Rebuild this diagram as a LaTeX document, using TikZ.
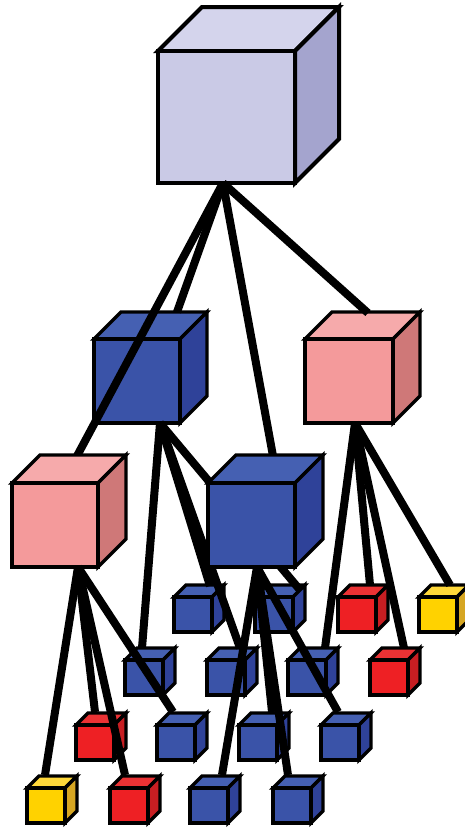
\documentclass[tikz,border=0pt]{standalone}
\definecolor{lavf}{HTML}{CACAE6}
\definecolor{lavt}{HTML}{D4D4EC}
\definecolor{lavs}{HTML}{A4A4CE}
\definecolor{bluf}{HTML}{3A53A8}
\definecolor{blut}{HTML}{4560B2}
\definecolor{blus}{HTML}{2F4299}
\definecolor{pnkf}{HTML}{F49A9B}
\definecolor{pnkt}{HTML}{F6AAAB}
\definecolor{pnks}{HTML}{CF7878}
\definecolor{redf}{HTML}{EE2024}
\definecolor{redt}{HTML}{EA3234}
\definecolor{reds}{HTML}{C81E22}
\definecolor{yelf}{HTML}{FFD200}
\definecolor{yelt}{HTML}{FFD83A}
\definecolor{yels}{HTML}{D6A622}
% name, x, y (front top-left), width, height, depth, colour prefix
\newcommand\qcube[7]{%
  \begin{scope}[shift={(#2,#3)}]
    \filldraw[cubeline,fill=#7t] (0,0) -- (#6,-#6) -- (#4+#6,-#6) -- (#4,0) -- cycle;
    \filldraw[cubeline,fill=#7s] (#4,0) -- (#4+#6,-#6) -- (#4+#6,#5-#6) -- (#4,#5) -- cycle;
    \filldraw[cubeline,fill=#7f] (0,0) rectangle (#4,#5);
    \coordinate (#1) at (#4/2,#5/2);
  \end{scope}}
\tikzset{
  cubeline/.style={line width=3.4pt,draw=black,line join=miter},
  bigline/.style={line width=4pt,draw=black,line join=miter},
  link/.style={line width=8pt,draw=black,line cap=butt},
}
\begin{document}
\begin{tikzpicture}[x=1pt,y=-1pt]
\fill[white] (0,0) rectangle (465,828);
\useasboundingbox (0,0) rectangle (465,828);

% hubs and attachment points
\coordinate (T-out) at (223,183);
\coordinate (H2-out) at (160,423);
\coordinate (PR-out) at (355,423);
\coordinate (PL-out) at (78,567);
\coordinate (H3-out) at (257,567);

\coordinate (H2-in) at (177,312);
\coordinate (PL-in) at (77,456);
\coordinate (H3-in) at (273,456);
\coordinate (PR-in) at (368,313);

\coordinate (A1-in) at (210,586);
\coordinate (A2-in) at (300,590);
\coordinate (A3-in) at (370,585);
\coordinate (A4-in) at (450,585);
\coordinate (B1-in) at (142,648);
\coordinate (B2-in) at (240,648);
\coordinate (B3-in) at (325,648);
\coordinate (B4-in) at (404,648);
\coordinate (C1-in) at (95,712);
\coordinate (C2-in) at (173,712);
\coordinate (C3-in) at (272,712);
\coordinate (C4-in) at (338,712);
\coordinate (D1-in) at (45,775);
\coordinate (D2-in) at (125,775);
\coordinate (D3-in) at (222,775);
\coordinate (D4-in) at (288,775);

% top cube
\begin{scope}[cubeline/.style={bigline}]
\qcube{T}{158}{51}{137}{132}{44}{lav}
\end{scope}

% second level
\qcube{H2}{94}{339}{86}{84}{27}{blu}
\qcube{PR}{305}{339}{88}{84}{27}{pnk}

% links from the top cube
\draw[link] (T-out) -- (H2-in);
\draw[link] (T-out) -- (PR-in);
\draw[link] (T-out) -- (H3-in);
\draw[link] (T-out) -- (PL-in);

% small cubes
\qcube{A1}{174}{597}{38}{35}{12}{blu}
\qcube{A2}{255}{597}{38}{35}{12}{blu}
\qcube{A3}{338}{597}{38}{35}{12}{red}
\qcube{A4}{419}{597}{38}{35}{12}{yel}
\qcube{B1}{125}{660}{38}{35}{12}{blu}
\qcube{B2}{207}{660}{38}{35}{12}{blu}
\qcube{B3}{288}{660}{38}{35}{12}{blu}
\qcube{B4}{370}{660}{38}{35}{12}{red}
\qcube{C1}{76}{725}{38}{35}{12}{red}
\qcube{C2}{157}{725}{38}{35}{12}{blu}
\qcube{C3}{239}{725}{38}{35}{12}{blu}
\qcube{C4}{321}{725}{38}{35}{12}{blu}
\qcube{D1}{27}{788}{38}{35}{12}{yel}
\qcube{D2}{110}{788}{38}{35}{12}{red}
\qcube{D3}{190}{788}{38}{35}{12}{blu}
\qcube{D4}{273}{788}{38}{35}{12}{blu}

% links from the second level
\draw[link] (H2-out) -- (B1-in);
\draw[link] (H2-out) -- (A1-in);
\draw[link] (H2-out) -- (B2-in);
\draw[link] (H2-out) -- (A2-in);
\draw[link] (PR-out) -- (B3-in);
\draw[link] (PR-out) -- (A3-in);
\draw[link] (PR-out) -- (B4-in);
\draw[link] (PR-out) -- (A4-in);

% third level
\qcube{PL}{12}{483}{86}{84}{28}{pnk}
\qcube{H3}{208}{483}{87}{84}{28}{blu}

% links from the third level
\draw[link] (PL-out) -- (D1-in);
\draw[link] (PL-out) -- (C1-in);
\draw[link] (PL-out) -- (D2-in);
\draw[link] (PL-out) -- (C2-in);
\draw[link] (H3-out) -- (D3-in);
\draw[link] (H3-out) -- (C3-in);
\draw[link] (H3-out) -- (D4-in);
\draw[link] (H3-out) -- (C4-in);
\end{tikzpicture}
\end{document}
